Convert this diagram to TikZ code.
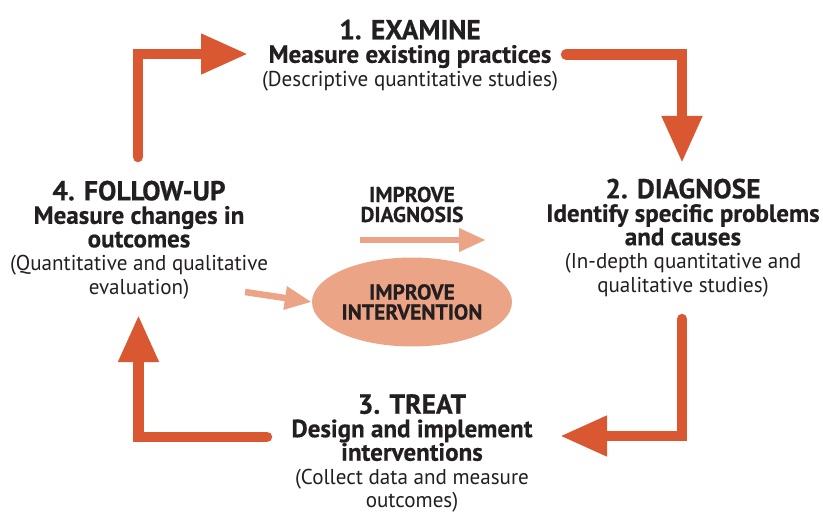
\documentclass[tikz,border=0pt]{standalone}
\usepackage{fontspec}
\setmainfont{PT Sans}
\newfontfamily\regf{PT Sans}[FakeStretch=0.98]
\newfontfamily\bldf{PT Sans Bold}[FakeBold=0.5]
\usetikzlibrary{arrows.meta,shapes.geometric}
\definecolor{bigarrow}{RGB}{217,88,50}
\definecolor{salmon}{RGB}{236,164,134}
\definecolor{txt}{RGB}{35,31,32}
\newcommand{\ttl}[1]{{\bldf\fontsize{27.5}{25.5}\selectfont #1}}
\newcommand{\sub}[1]{{\bldf\fontsize{25}{24}\selectfont #1}}
\begin{document}
\begin{tikzpicture}[x=1pt,y=-1pt,
  cyc/.style={draw=bigarrow, line width=10.5pt, line cap=round, line join=miter,
    -{Triangle[length=47pt,width=38pt]}},
  softarrow/.style={draw=salmon, line width=6.5pt,
    -{Triangle[length=27pt,width=22pt]}},
  block/.style={align=center, inner sep=0pt, anchor=north, text=txt,
    font=\regf\fontsize{21.5}{23.5}\selectfont},
  bold/.style={align=center, inner sep=0pt, text=txt,
    font=\bldf\fontsize{21.5}{20}\selectfont}
]
\useasboundingbox (0,0) rectangle (823,519);

% text blocks
\node[block] (examine) at (410,19.5)
  {\ttl{1. EXAMINE}\\ \sub{Measure existing practices}\\ (Descriptive quantitative studies)};
\node[block] (diagnose) at (683,178.5)
  {\ttl{2. DIAGNOSE}\\ \sub{Identify specific problems}\\ \sub{and causes}\\ (In-depth quantitative and\\ qualitative studies)};
\node[block] (treat) at (412,394)
  {\ttl{3. TREAT}\\ \sub{Design and implement}\\ \sub{interventions}\\ (Collect data and measure\\ outcomes)};
\node[block] (follow) at (139,180.5)
  {\ttl{4. FOLLOW-UP}\\ \sub{Measure changes in}\\ \sub{outcomes}\\ (Quantitative and qualitative\\ evaluation)};

% center
\node[bold] (impdiag) at (412,204.5) {IMPROVE\\DIAGNOSIS};
\node[bold, ellipse, fill=salmon, minimum width=200pt, minimum height=89pt] (impint) at (412,302)
  {IMPROVE\\INTERVENTION};

% cycle arrow coordinates
\coordinate (a1s) at (138,157);
\coordinate (a1c) at (138,54);
\coordinate (a1e) at (248,54);
\coordinate (a2s) at (566,54.5);
\coordinate (a2c) at (682,54.5);
\coordinate (a2e) at (682,163);
\coordinate (a3s) at (682,319);
\coordinate (a3c) at (682,436);
\coordinate (a3e) at (560,436);
\coordinate (a4s) at (267,437);
\coordinate (a4c) at (138.5,437);
\coordinate (a4e) at (138.5,315);
\draw[cyc] (a1s) -- (a1c) -- (a1e);
\draw[cyc] (a2s) -- (a2c) -- (a2e);
\draw[cyc] (a3s) -- (a3c) -- (a3e);
\draw[cyc] (a4s) -- (a4c) -- (a4e);

% improvement arrows
\coordinate (d1) at (360,240);
\coordinate (d2) at (486,240);
\draw[softarrow] (d1) -- (d2);
\coordinate (i1) at (245,292);
\draw[softarrow] (i1) -- (impint.west);
\end{tikzpicture}
\end{document}
